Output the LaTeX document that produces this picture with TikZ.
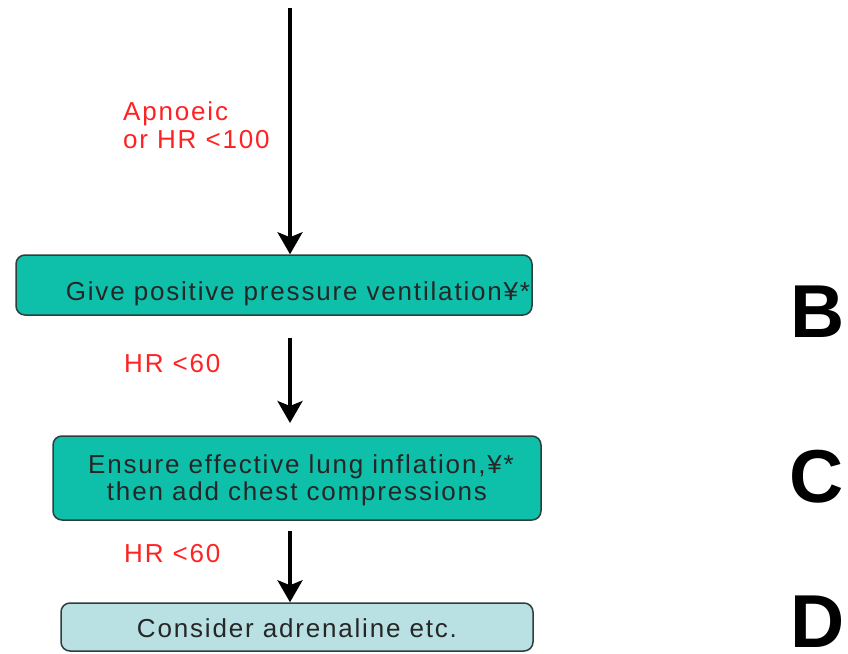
\documentclass[tikz,border=0pt]{standalone}
\usepackage{fontspec}
\setmainfont{Liberation Sans}
\newfontfamily\spaced[LetterSpace=7]{Liberation Sans}
\usetikzlibrary{arrows.meta}
\definecolor{tealbox}{HTML}{0EC0AA}
\definecolor{lightbox}{HTML}{B9E0E3}
\definecolor{boxedge}{HTML}{2E3E3B}
\definecolor{redlbl}{HTML}{FF2222}
\tikzset{
  stepbox/.style={draw=boxedge, line width=1.5pt, rounded corners=9pt, inner sep=0pt},
  boxtext/.style={font=\spaced\fontsize{26}{27}\selectfont, text=black!85, inner sep=0pt, anchor=base},
  redtext/.style={font=\spaced\fontsize{26}{28}\selectfont, text=redlbl, inner sep=0pt, anchor=base west, align=left},
  bigletter/.style={font=\fontsize{75}{75}\selectfont\bfseries, inner sep=0pt, anchor=base},
  flow/.style={line width=3.5pt, -{Stealth[length=22pt,width=25pt,inset=5pt]}}
}
\begin{document}
\begin{tikzpicture}[x=1pt,y=-1pt]
\useasboundingbox (0,0) rectangle (848,653);
% boxes
\node[stepbox, fill=tealbox, minimum width=516pt, minimum height=60pt] (b1) at (274,285) {};
\node[stepbox, fill=tealbox, minimum width=488pt, minimum height=84pt] (b2) at (297,478) {};
\node[stepbox, fill=lightbox, minimum width=472pt, minimum height=48pt] (b3) at (297,627) {};
% box texts
\node[boxtext] (t1) at (298,300) {Give positive pressure ventilation¥*};
\node[boxtext] (t2a) at (301,473) {Ensure effective lung inflation,¥*};
\node[boxtext] (t2b) at (297,500) {then add chest compressions};
\node[boxtext] (t3) at (297,637) {Consider adrenaline etc.};
% red labels
\node[redtext] (l1a) at (123,120) {Apnoeic};
\node[redtext] (l1b) at (123,148) {or HR <100};
\node[redtext] (l2) at (124,372) {HR <60};
\node[redtext] (l3) at (124,562) {HR <60};
% letters
\node[bigletter] (B) at (818,337) {B};
\node[bigletter] (C) at (817,502) {C};
\node[bigletter] (D) at (818,647) {D};
% arrows
\coordinate (a1s) at (290,8);
\coordinate (a2s) at (290,338);
\coordinate (a2e) at (290,423);
\coordinate (a3s) at (290,531);
\draw[flow] (a1s) -- (a1s |- b1.north);
\draw[flow] (a2s) -- (a2e);
\draw[flow] (a3s) -- (a3s |- b3.north);
\end{tikzpicture}
\end{document}
